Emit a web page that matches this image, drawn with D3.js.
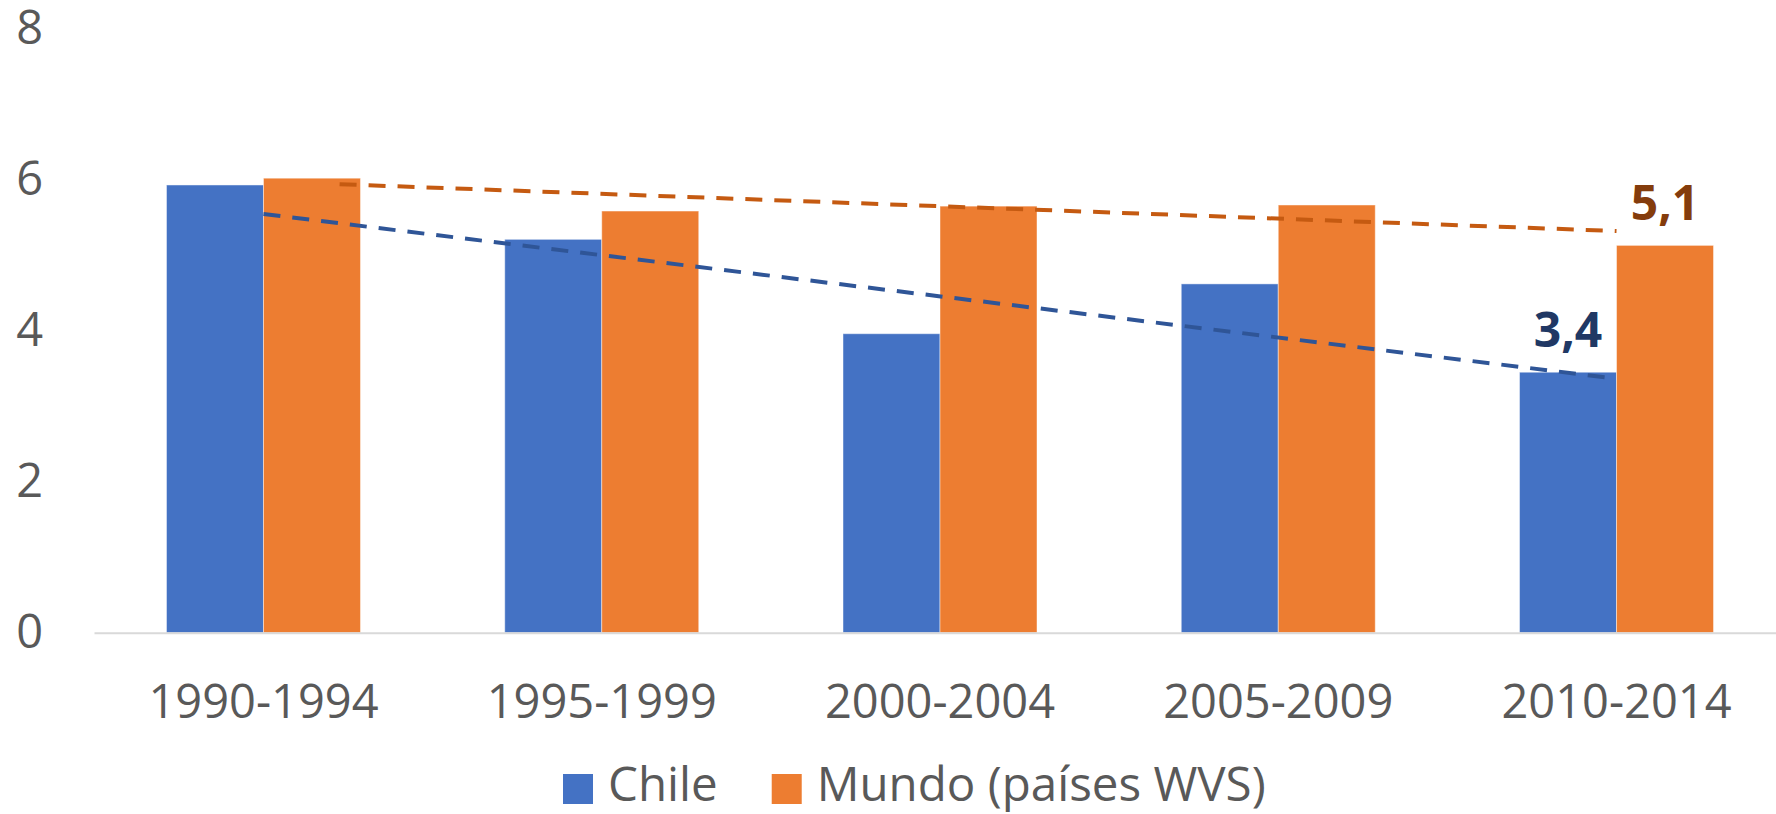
<!DOCTYPE html>
<html>
<head>
<meta charset="utf-8">
<script src="https://cdn.jsdelivr.net/npm/d3@7/dist/d3.min.js"></script>
<style>
  html, body { margin: 0; padding: 0; background: #fff; }
  svg { display: block; }
  text { font-family: "Open Sans", "Noto Sans", sans-serif; }
</style>
</head>
<body>
<svg id="chart" width="1776" height="814"></svg>
<script>
// ---- data ----
const categories = ["1990-1994", "1995-1999", "2000-2004", "2005-2009", "2010-2014"];
const seriesNames = ["Chile", "Mundo (países WVS)"];
const chileValues = [5.93, 5.21, 3.96, 4.62, 3.45];
const mundoValues = [6.02, 5.585, 5.65, 5.665, 5.13];
const yTicks = [0, 2, 4, 6, 8];
// trend lines: [category index, value] at start and end
const chileTrend = [[0, 5.545], [4, 3.365]];
const mundoTrend = [[0.225, 5.94], [4, 5.32]];
const endLabels = ["3,4", "5,1"];

const colors = { Chile: "#4472C4", Mundo: "#ED7D31" };
const trendColors = { Chile: "#2F5597", Mundo: "#C55A11" };
const labelColors = { Chile: "#203864", Mundo: "#843C0C" };

const svg = d3.select("#chart");

const y = d3.scaleLinear().domain([0, 8]).range([632.7, 28.7]);
const x = d3.scaleBand().domain(categories).range([94, 1786])
  .paddingInner(0.4265).paddingOuter(0.2143);
const xs = d3.scaleBand().domain(["Chile", "Mundo"]).range([0, x.bandwidth()]).padding(0);

// y axis labels
const yAxis = d3.axisLeft(y).tickValues(yTicks).tickSize(0).tickPadding(0);
const gy = svg.append("g").attr("transform", "translate(43,0)").call(yAxis);
gy.select(".domain").remove();
gy.selectAll("text")
  .attr("fill", "#595959").style("font-size", "47px")
  .style("font-family", '"Open Sans", sans-serif');

// bars
const rows = categories.map((c, i) => ({ c, Chile: chileValues[i], Mundo: mundoValues[i] }));
const groups = svg.append("g").selectAll("g").data(rows).join("g")
  .attr("transform", d => `translate(${x(d.c)},0)`);
groups.selectAll("rect").data(d => ["Chile", "Mundo"].map(k => ({ k, v: d[k] }))).join("rect")
  .attr("x", d => xs(d.k))
  .attr("width", xs.bandwidth())
  .attr("y", d => y(d.v))
  .attr("height", d => y(0) - y(d.v))
  .attr("fill", d => colors[d.k])
  .attr("stroke", "#ffffff").attr("stroke-opacity", 0.45).attr("stroke-width", 1);

// x axis baseline
const xAxis = d3.axisBottom(x).tickSize(0).tickPadding(0);
const gx = svg.append("g").attr("transform", `translate(0,${y(0)})`).call(xAxis);
gx.select(".domain").attr("stroke", "#D9D9D9").attr("stroke-width", 2);
gx.selectAll("text")
  .attr("fill", "#595959").style("font-size", "47px")
  .style("font-family", '"Open Sans", sans-serif')
  .attr("dy", null).attr("y", 85);

// trend lines
const step = x.step();
const cx0 = x(categories[0]) + x.bandwidth() / 2;
const tx = i => cx0 + i * step;
const line = d3.line().x(d => tx(d[0])).y(d => y(d[1]));
[["Chile", chileTrend], ["Mundo", mundoTrend]].forEach(([k, t]) => {
  svg.append("path").datum(t).attr("d", line)
    .attr("fill", "none").attr("stroke", trendColors[k])
    .attr("stroke-width", 4).attr("stroke-dasharray", "17,12");
});

// end labels
const last = categories.length - 1;
[["Chile", chileValues[last], endLabels[0]], ["Mundo", mundoValues[last], endLabels[1]]].forEach(([k, v, lab]) => {
  svg.append("text")
    .attr("x", x(categories[last]) + xs(k) + xs.bandwidth() / 2)
    .attr("y", y(v) - 25)
    .attr("text-anchor", "middle")
    .attr("fill", labelColors[k])
    .style("font-size", "48px").style("font-weight", "700")
    .text(lab);
});

// legend
const lg = svg.append("g");
let lx = 563;
seriesNames.forEach((name, i) => {
  const k = i === 0 ? "Chile" : "Mundo";
  lg.append("rect").attr("x", lx).attr("y", 774).attr("width", 30).attr("height", 30).attr("fill", colors[k]);
  const t = lg.append("text").attr("x", lx + 45).attr("y", 801)
    .attr("fill", "#595959").style("font-size", "47.5px").text(name);
  lx = lx + 45 + t.node().getComputedTextLength() + 54;
});
</script>
</body>
</html>
